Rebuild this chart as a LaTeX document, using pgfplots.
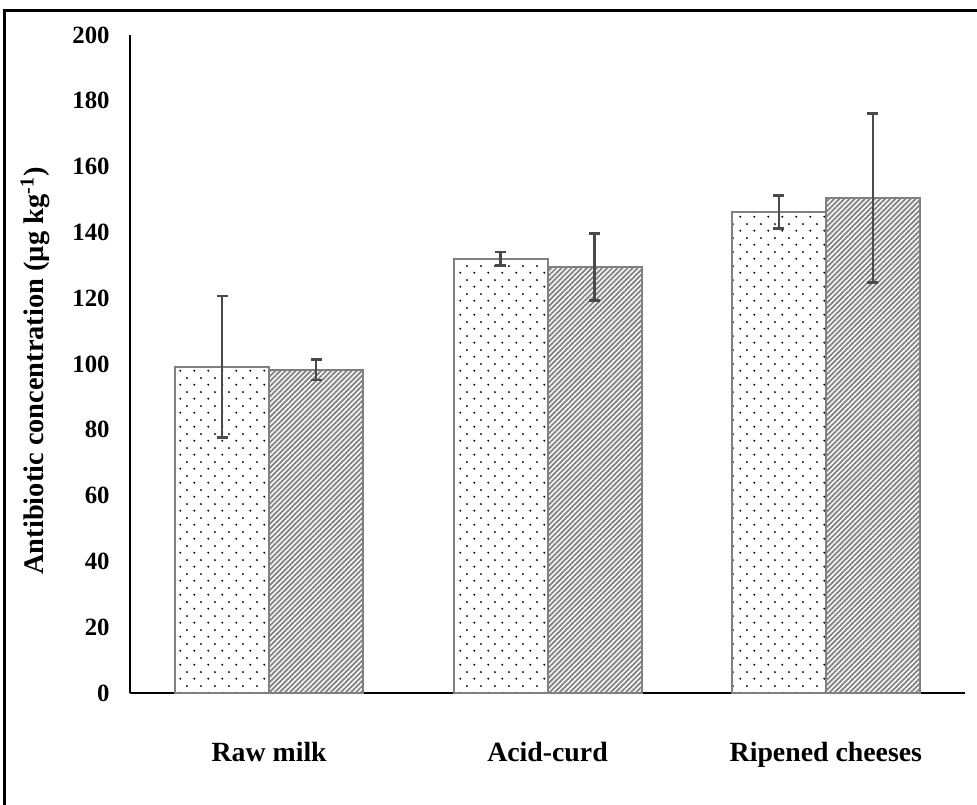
\documentclass[border=0pt]{standalone}
\usepackage{fontspec}
\setmainfont{Liberation Serif}
\usepackage{pgfplots}
\pgfplotsset{compat=1.18}
\usetikzlibrary{patterns,patterns.meta}
\pgfdeclarepatternformonly{sdots}{\pgfpointorigin}{\pgfpoint{6.8pt}{6.8pt}}{\pgfpoint{6.8pt}{6.8pt}}{%
  \pgfpathcircle{\pgfpoint{1.7pt}{1.7pt}}{0.55pt}%
  \pgfpathcircle{\pgfpoint{5.1pt}{5.1pt}}{0.55pt}%
  \pgfusepath{fill}}
\definecolor{barline}{HTML}{808080}
\definecolor{errc}{HTML}{4A4A4A}
\definecolor{hatchc}{HTML}{858585}
\pgfplotstableread{
x  y      e
0  99.2   21.5
1  132.0  2.1
2  146.2  5.0
}\dotted
\pgfplotstableread{
x  y      e
0  98.3   3.1
1  129.5  10.2
2  150.4  25.7
}\hatched
\begin{document}
\begin{tikzpicture}
\useasboundingbox (-65pt,-55.5pt) rectangle (423.5pt,346.5pt);
\draw[black, line width=1.5pt] (-62.5pt,-60pt) -- (-62.5pt,341pt) -- (430pt,341pt);
\begin{axis}[
  at={(0pt,0pt)}, anchor=south west,
  width=417.5pt, height=329pt, scale only axis,
  xmin=-0.5, xmax=2.5, ymin=0, ymax=200,
  axis x line=bottom, axis y line=left,
  axis line style={-, black, line width=1pt},
  xtick=data, xticklabels={Raw milk, Acid-curd, Ripened cheeses},
  ytick={0,20,...,200},
  major tick length=0pt,
  tick style={draw=none},
  /pgf/number format/assume math mode=true,
  yticklabel style={font=\fontsize{12.4}{14}\selectfont\bfseries, inner sep=0pt, xshift=-10pt},
  xticklabel style={font=\fontsize{13.9}{16}\selectfont\bfseries, inner sep=0pt, anchor=north, yshift=-24.5pt},
  ylabel={Antibiotic concentration (µg kg\textsuperscript{-1})},
  ylabel style={font=\fontsize{14.2}{16}\selectfont\bfseries, at={(axis description cs:-0.1030,0.4894)}, anchor=base, inner sep=0pt},
  ybar=0pt, bar width=47pt,
  clip=false,
]
\addplot[draw=barline, line width=1pt, pattern=sdots, pattern color=black,
  error bars/.cd, y dir=both, y explicit, error mark=-,
  error bar style={errc, line width=1.25pt},
  error mark options={errc, line width=1.25pt, mark size=2.75pt, rotate=90}]
  table[x=x, y=y, y error=e] {\dotted};
\addplot[draw=barline, line width=1pt, pattern={Lines[angle=45, distance=1.8pt, line width=0.95pt]}, pattern color=hatchc,
  error bars/.cd, y dir=both, y explicit, error mark=-,
  error bar style={errc, line width=1.25pt},
  error mark options={errc, line width=1.25pt, mark size=2.75pt, rotate=90}]
  table[x=x, y=y, y error=e] {\hatched};
\end{axis}
\end{tikzpicture}
\end{document}
